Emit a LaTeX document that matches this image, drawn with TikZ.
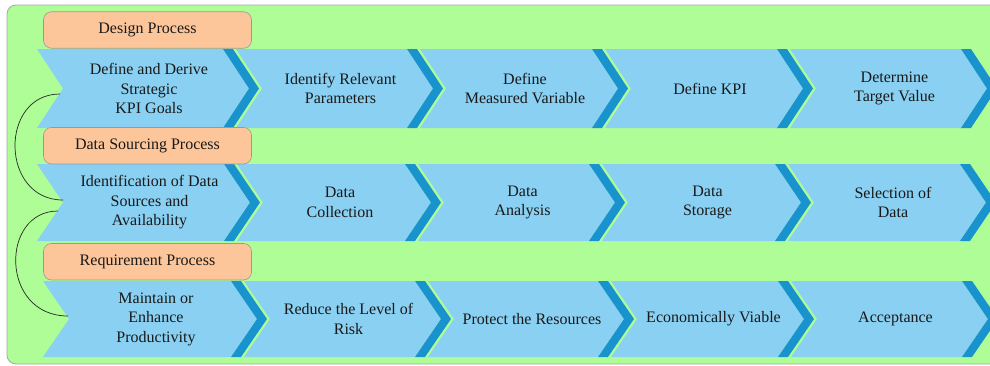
\documentclass[tikz,border=0pt]{standalone}
\usepackage{fontspec}
\setmainfont{Liberation Serif}
\usetikzlibrary{positioning}

\definecolor{bggreen}{HTML}{AEFD96}
\definecolor{chevblue}{HTML}{89D0F2}
\definecolor{banddark}{HTML}{1893CD}
\definecolor{peach}{HTML}{FCC69A}
\definecolor{framegray}{HTML}{A3AAA3}

\begin{document}
\begin{tikzpicture}[x=1pt,y=-1pt,
  font=\fontsize{16}{19.5}\selectfont,
  chevron/.style={fill=chevblue},
  band/.style={fill=banddark},
  stagetext/.style={align=center,text=black!90,inner sep=0pt},
  phase/.style={draw=gray!80,line width=0.6pt,fill=peach,rounded corners=8pt,
    minimum width=208pt,minimum height=36.5pt,inner sep=0pt,text=black!90},
  link/.style={draw=black!85,line width=0.7pt}]
  \useasboundingbox (0,0) rectangle (990,365);
  \clip (0,0) rectangle (990,365);
  \draw[fill=bggreen,draw=framegray,line width=0.8pt,rounded corners=9pt] (7,5) rectangle (1020,364);

  \foreach \s/\b/\txt [count=\i] in {37/223/Define and Derive\\Strategic\\KPI Goals,
      236/407/Identify Relevant\\Parameters, 420/592/Define\\Measured Variable,
      605/777/Define KPI, 790/961/Determine\\Target Value}{
    \fill[chevron] (\s,49) -- (\b,49) -- (\b+26,88.5) -- (\b,128) -- (\s,128) -- (\s+26,88.5) -- cycle;
    \fill[band] (\b,49) -- (\b+10,49) -- (\b+36,88.5) -- (\b+10,128) -- (\b,128) -- (\b+26,88.5) -- cycle;
    \node[stagetext] (d\i) at ({(\s+\b)/2+19},88.5) {\txt};
  }

  \foreach \s/\b/\txt [count=\i] in {37/224/Identification of Data\\Sources and\\Availability,
      237/405/Data\\Collection, 418/589/Data\\Analysis,
      602/775/Data\\Storage, 788/960/Selection of\\Data}{
    \fill[chevron] (\s,164) -- (\b,164) -- (\b+26,202.5) -- (\b,241) -- (\s,241) -- (\s+26,202.5) -- cycle;
    \fill[band] (\b,164) -- (\b+10,164) -- (\b+36,202.5) -- (\b+10,241) -- (\b,241) -- (\b+26,202.5) -- cycle;
    \node[stagetext] (s\i) at ({(\s+\b)/2+19},202.5) {\txt};
  }

  \foreach \s/\b/\txt [count=\i] in {43/231/Maintain or\\Enhance\\Productivity,
      244/415/Reduce the Level of\\Risk, 428/598/Protect the Resources,
      611/778/Economically Viable, 791/962/Acceptance}{
    \fill[chevron] (\s,281) -- (\b,281) -- (\b+26,319) -- (\b,357) -- (\s,357) -- (\s+26,319) -- cycle;
    \fill[band] (\b,281) -- (\b+10,281) -- (\b+36,319) -- (\b+10,357) -- (\b,357) -- (\b+26,319) -- cycle;
    \node[stagetext] (r\i) at ({(\s+\b)/2+19},319) {\txt};
  }

  \node[phase] (design) at (147.5,30) {Design Process};
  \node[phase] (sourcing) at (147.5,145.7) {Data Sourcing Process};
  \node[phase] (requirement) at (147.5,261.7) {Requirement Process};

  \coordinate (a1) at (60,94);
  \coordinate (a2) at (63,200);
  \coordinate (a3) at (58,211);
  \coordinate (a4) at (68,316);
  \draw[link] (a1) .. controls +(-61,0) and +(-63,0) .. (a2);
  \draw[link] (a3) .. controls +(-58,0) and +(-68,0) .. (a4);
\end{tikzpicture}
\end{document}
